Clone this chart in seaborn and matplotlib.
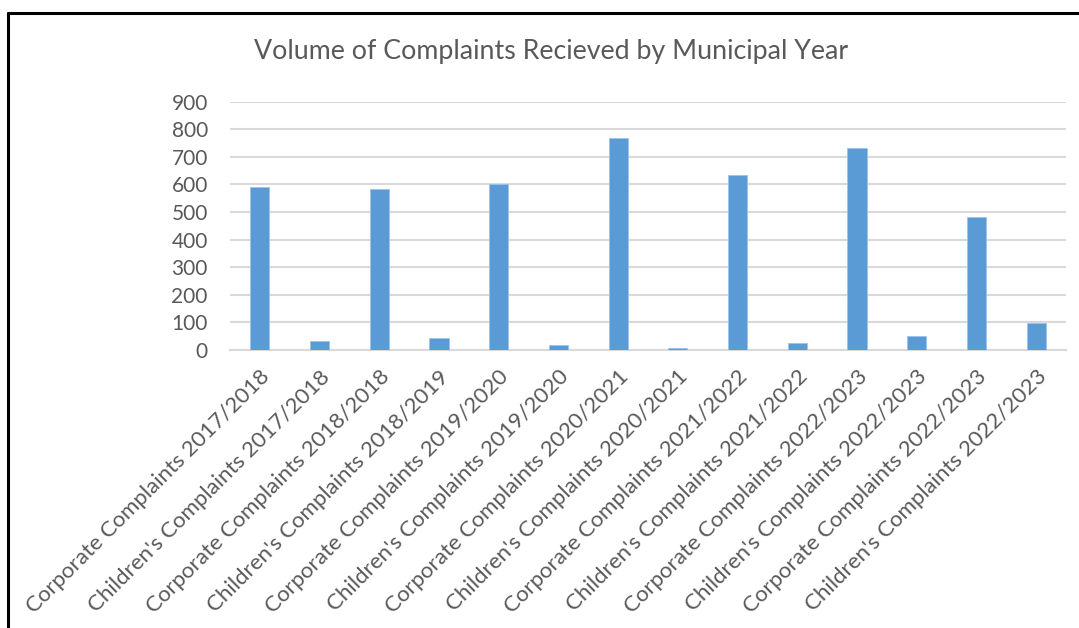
import matplotlib
matplotlib.use("Agg")
import matplotlib.pyplot as plt
import seaborn as sns
import pandas as pd

categories = [
    "Corporate Complaints 2017/2018",
    "Children's Complaints 2017/2018",
    "Corporate Complaints 2018/2018",
    "Children's Complaints 2018/2019",
    "Corporate Complaints 2019/2020",
    "Children's Complaints 2019/2020",
    "Corporate Complaints 2020/2021",
    "Children's Complaints 2020/2021",
    "Corporate Complaints 2021/2022",
    "Children's Complaints 2021/2022",
    "Corporate Complaints 2022/2023",
    "Children's Complaints 2022/2023",
    "Corporate Complaints 2022/2023",
    "Children's Complaints 2022/2023",
]
complaints = [590, 34, 582, 45, 600, 18, 767, 8, 633, 24, 733, 51, 481, 99]
y_ticks = [0, 100, 200, 300, 400, 500, 600, 700, 800, 900]

sns.set_style("white")
plt.rcParams['font.family'] = ['Lato', 'DejaVu Sans']
text_col = "#595959"
grid_col = "#d9d9d9"

df = pd.DataFrame({"pos": list(range(len(categories))), "count": complaints})

fig = plt.figure(figsize=(10.79, 6.28), dpi=100)
ax = fig.add_axes([0.2132, 0.4427, 0.7748, 0.3953])

sns.barplot(data=df, x="pos", y="count", color="#5B9BD5", width=0.32,
            saturation=1, edgecolor="#9DC3E6", linewidth=0.6, ax=ax, zorder=3)

ax.set_ylim(0, 900)
ax.set_xlim(-0.5, len(categories) - 0.5)
ax.set_yticks(y_ticks)
ax.set_yticklabels([str(v) for v in y_ticks], fontsize=15, color=text_col)
ax.set_xticks(range(len(categories)))
ax.set_xticklabels(categories, rotation=45, ha="right", rotation_mode="anchor",
                   fontsize=16, color=text_col)
ax.tick_params(axis="x", length=0, pad=12)
ax.tick_params(axis="y", length=0, pad=16)
ax.yaxis.grid(True, color=grid_col, linewidth=1.5, zorder=0)
ax.set_axisbelow(True)
for s in ["top", "right", "left"]:
    ax.spines[s].set_visible(False)
ax.spines["bottom"].set_color(grid_col)
ax.spines["bottom"].set_linewidth(1.5)
ax.set_xlabel("")
ax.set_ylabel("")

fig.text(0.511, 0.918, "Volume of Complaints Recieved by Municipal Year",
         ha="center", va="center", fontsize=19.3, color=text_col)

# frame around the chart (left and top edges visible)
fig.add_artist(plt.Line2D([0.0077, 0.0077], [0.0, 0.980], color="black",
                          linewidth=2.2, transform=fig.transFigure))
fig.add_artist(plt.Line2D([0.0077, 1.0], [0.980, 0.980], color="black",
                          linewidth=2.2, transform=fig.transFigure))

fig.savefig("out.png", dpi=100)
